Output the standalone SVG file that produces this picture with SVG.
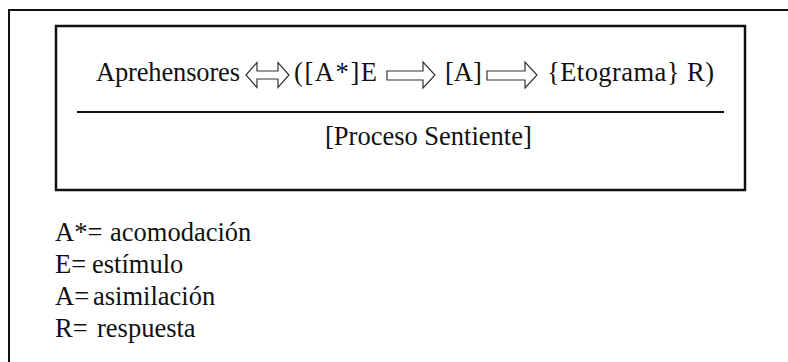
<svg xmlns="http://www.w3.org/2000/svg" width="788" height="362" viewBox="0 0 788 362">
  <style>
    .t { font-family: "Liberation Serif", "Times New Roman", Tinos, serif; font-size: 26.5px; fill: #111; }
    .frame { fill: none; stroke: #111; stroke-width: 2; }
    .box { fill: none; stroke: #111; stroke-width: 2.5; }
    .arrow { fill: #fff; stroke: #333; stroke-width: 1.2; stroke-linejoin: miter; }
  </style>
  <rect width="788" height="362" fill="#fff"/>
  <!-- outer frame, open to the right and bottom edges -->
  <path class="frame" d="M9,362 V10 H788"/>

  <g id="proceso">
    <rect class="box" x="56" y="26" width="689" height="164"/>
    <line x1="77" y1="112" x2="724" y2="112" stroke="#111" stroke-width="2"/>
    <text class="t" x="96" y="81" textLength="144">Aprehensores</text>
    <text class="t" x="294" y="81" textLength="83">([A*]E</text>
    <text class="t" x="445" y="81">[A]</text>
    <text class="t" x="547" y="81" textLength="167">{Etograma} R)</text>
    <text class="t" x="325" y="145">[Proceso Sentiente]</text>
  </g>

  <g id="connectors">
    <!-- double-headed hollow arrow -->
    <path class="arrow" d="M246,75 L257,62.5 V71 H278 V62.5 L289,75 L278,87.5 V79 H257 V87.5 Z"/>
    <!-- hollow arrows -->
    <path class="arrow" d="M387,71 H423 V62 L435,75 L423,88 V80 H387 Z"/>
    <path class="arrow" d="M487,71 H525 V62 L537,75 L525,88 V80 H487 Z"/>
  </g>

  <g id="leyenda">
    <text class="t" x="55" y="241">A*=</text>
    <text class="t" x="110" y="241">acomodación</text>
    <text class="t" x="55" y="273">E=</text>
    <text class="t" x="92" y="273">estímulo</text>
    <text class="t" x="55" y="305">A=</text>
    <text class="t" x="93" y="305">asimilación</text>
    <text class="t" x="55" y="337">R=</text>
    <text class="t" x="97" y="337">respuesta</text>
  </g>
</svg>
